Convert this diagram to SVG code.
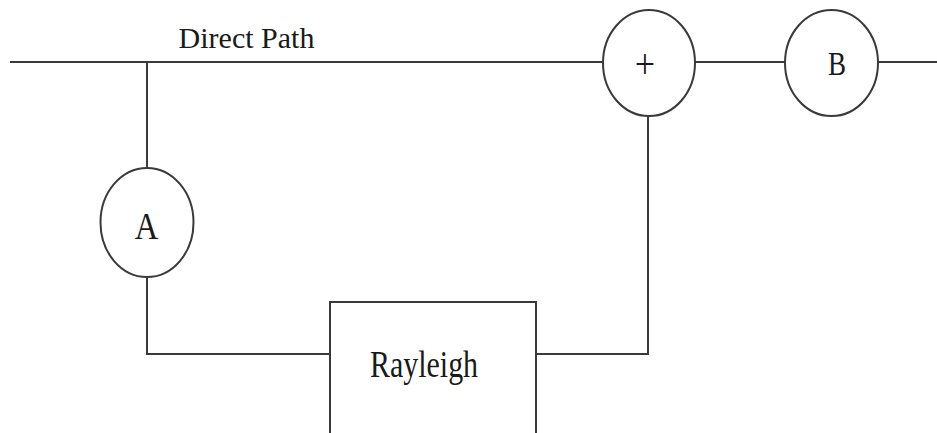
<svg xmlns="http://www.w3.org/2000/svg" width="937" height="433" viewBox="0 0 937 433">
  <style>
    .wire { fill: none; stroke: #3a3a3a; stroke-width: 2; }
    .shape { fill: #ffffff; stroke: #3a3a3a; stroke-width: 2; }
    .label { font-family: "Liberation Serif", "Times New Roman", serif; fill: #1a1a1a; text-anchor: middle; }
  </style>
  <rect width="937" height="433" fill="#ffffff"/>
  <g id="connectors">
    <line class="wire" x1="10" y1="62" x2="603" y2="62"/>
    <line class="wire" x1="147" y1="62" x2="147" y2="168"/>
    <line class="wire" x1="695" y1="62" x2="785" y2="62"/>
    <line class="wire" x1="878" y1="62" x2="937" y2="62"/>
    <polyline class="wire" points="147,277 147,354 330,354"/>
    <polyline class="wire" points="536,354 648,354 648,116"/>
  </g>
  <text class="label" x="246.5" y="48" font-size="30">Direct Path</text>
  <g id="node-sum">
    <ellipse class="shape" cx="649" cy="63" rx="46" ry="53"/>
    <text class="label" font-size="36" transform="translate(645,78) scale(1,1.2)">+</text>
  </g>
  <g id="node-b">
    <ellipse class="shape" cx="831.5" cy="63" rx="46.5" ry="53"/>
    <text class="label" font-size="33" transform="translate(837,75) scale(0.82,1)">B</text>
  </g>
  <g id="node-a">
    <ellipse class="shape" cx="147" cy="222.5" rx="46.5" ry="54.5"/>
    <text class="label" font-size="37" transform="translate(146.5,239) scale(0.88,1)">A</text>
  </g>
  <g id="node-rayleigh">
    <rect class="shape" x="330" y="302" width="206" height="140"/>
    <text class="label" font-size="37" transform="translate(424,377) scale(0.81,1)">Rayleigh</text>
  </g>
</svg>
